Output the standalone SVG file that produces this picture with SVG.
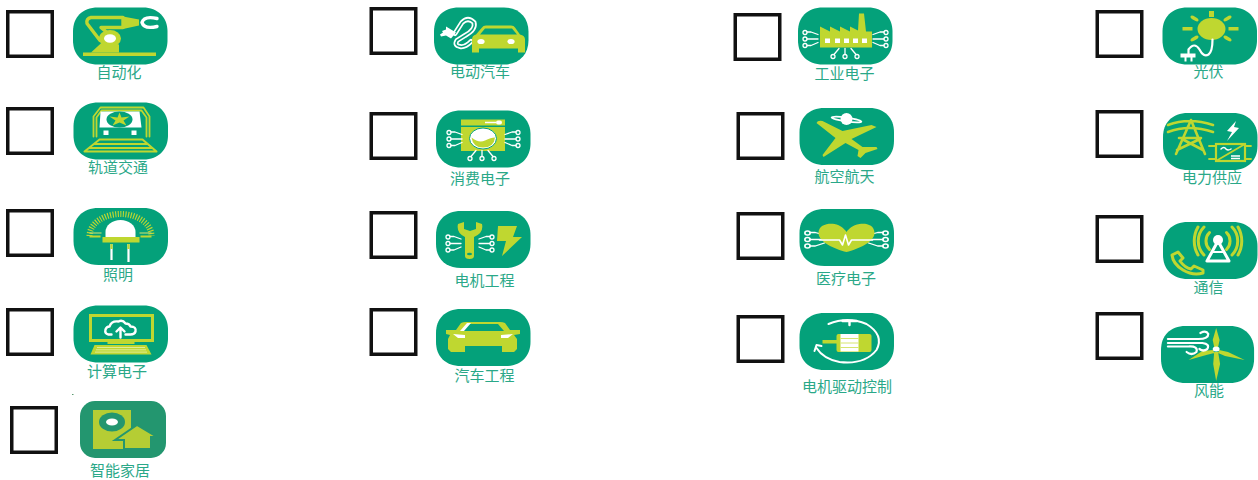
<svg xmlns="http://www.w3.org/2000/svg" width="1258" height="480" viewBox="0 0 1258 480">
<style>
.cb{fill:#fff;stroke:#111;stroke-width:3.500}
.t{fill:#04a17a}
.l{fill:#bfd730}
.w{fill:#fff}
.g{fill:#04a17a}
.ls{fill:none;stroke:#bfd730;stroke-linecap:round;stroke-linejoin:round}
.ws{fill:none;stroke:#fff;stroke-linecap:round;stroke-linejoin:round}
.gs{fill:none;stroke:#04a17a;stroke-linecap:round;stroke-linejoin:round}
text{font-family:"Noto Sans CJK SC","Noto Sans",sans-serif;font-size:15px;fill:#2aa888;text-anchor:middle}
</style>
<defs>
<path id="tile" d="M25 0H70C85 0 94.500 10 94.500 24V33C94.500 47 85 57 70 57H25C9 57 0 47 0 33V24C0 10 9 0 25 0Z"/>
<g id="tl" class="ws" stroke-width="1.300">
<circle cx="0" cy="0" r="2"/><path d="M2 -.5H6L13 2"/>
<circle cx="0" cy="6.500" r="2"/><path d="M2 6.500H13"/>
<circle cx="0" cy="13" r="2"/><path d="M2 13H6L13 10"/>
</g>
<g id="tb" class="ws" stroke-width="1.300">
<circle cx="-12" cy="0" r="2"/><path d="M-11 -2L-6 -8"/>
<circle cx="0" cy="0" r="2"/><path d="M0 -2V-8"/>
<circle cx="12" cy="0" r="2"/><path d="M11 -2L6 -8"/>
</g>
</defs>

<g id="n-automation"><rect class="cb" x="7.750" y="11.750" width="44.500" height="44.500"/>
<g transform="translate(73 7.500)"><use href="#tile" class="t"/>
<rect class="l" x="10" y="45" width="73" height="3.500"/>
<path class="l" d="M18 45L31 33L46 37V45Z"/>
<path class="ls" stroke-width="3.400" d="M27 33L14 16Q13 11 18 10H50V20H28L41 31"/>
<path class="l" d="M50 9L66 12V18L50 21.500Z"/>
<ellipse class="l" cx="37" cy="31" rx="11" ry="8.500"/>
<ellipse class="w" cx="37" cy="31" rx="6" ry="4.200"/>
<path class="ws" stroke-width="3.400" d="M84 11Q71 8 69 15Q71 22 84 19"/>
</g><text x="119" y="78">自动化</text></g>

<g id="n-rail"><rect class="cb" x="7.750" y="108.750" width="44.500" height="44.500"/>
<g transform="translate(73.500 102.500)"><use href="#tile" class="t"/>
<path class="ls" stroke-width="1.800" d="M20 34V14L27 5H70L76 14V34"/>
<path class="ls" stroke-width="1.800" d="M23 34V15L28 8H68L73 15V34"/>
<path class="w" d="M27 9H66L68 25H26Z"/>
<ellipse class="g" cx="46" cy="17" rx="13" ry="8"/>
<path class="l" d="M46 10L48 15L56 14L50 18L53 23L46 20L39 23L42 18L36 14L44 15Z"/>
<rect class="w" x="30" y="28" width="5" height="4.500"/><rect class="w" x="58" y="28" width="5" height="4.500"/>
<path class="ls" stroke-width="2" d="M11 49L26 37H69L83 49ZM21 41.500H74M16 45.500H79"/>
</g><text x="118" y="173">轨道交通</text></g>

<g id="n-lighting"><rect class="cb" x="7.750" y="210.750" width="44.500" height="44.500"/>
<g transform="translate(73.500 208)"><use href="#tile" class="t"/>
<path d="M16 28A31 22 0 0 1 78 28" fill="none" stroke="#bfd730" stroke-width="6" stroke-dasharray="1.100 1.500"/>
<path d="M16 25H28M66 25H78" stroke="#d6e56f" stroke-width="1.200"/>
<path d="M16 28.500H27M67 28.500H78" stroke="#bfd730" stroke-width="1.800"/>
<path class="w" d="M32 29V24A15 12 0 0 1 62 24V29Z"/>
<rect class="l" x="29" y="29" width="37" height="5.500"/>
<path d="M38 36V52M55 36V54" stroke="#fff" stroke-width="2.200"/>
<path d="M38 36V41M55 36V41" stroke="#bfd730" stroke-width="2.200"/>
</g><text x="118" y="280">照明</text></g>

<g id="n-computing"><rect class="cb" x="7.750" y="309.750" width="44.500" height="44.500"/>
<g transform="translate(73.500 305.500)"><use href="#tile" class="t"/>
<rect x="17" y="10" width="62" height="25" fill="none" stroke="#bfd730" stroke-width="3"/>
<path class="ws" stroke-width="2.400" d="M38 29H35Q31 28 32 24Q33 21 36 21Q38 15 45 16Q49 14 52 18Q56 18 57 21Q63 21 62 26Q61 29 57 29H52"/>
<path class="ws" stroke-width="2.400" d="M47 32V23M43 26L47 22L51 26"/>
<rect class="l" x="34" y="36" width="27" height="2.500"/>
<path class="l" d="M21 39.500H73L78 49H17Z"/>
<path d="M24 42H71M23 44.300H72M22 46.600H74" stroke="#fff" stroke-width="1" stroke-dasharray="1 1"/>
</g><text x="117" y="377">计算电子</text></g>

<g id="n-smarthome"><rect class="cb" x="11.750" y="407.750" width="44.500" height="44.500"/>
<rect x="72" y="394" width="1.500" height="1" fill="#5a9a70"/>
<g transform="translate(80 401)"><rect width="86" height="57" rx="15" fill="#23966f"/>
<rect x="13" y="9" width="38" height="39" fill="#b5cd34"/>
<ellipse cx="32" cy="21" rx="13" ry="9.500" fill="#23966f"/><ellipse class="w" cx="32" cy="21" rx="6" ry="3.500"/>
<path d="M35 39L57 24L77 36H71V48H44V39Z" fill="#b5cd34" stroke="#23966f" stroke-width="2"/>
</g><text x="120" y="476">智能家居</text></g>

<g id="n-ev"><rect class="cb" x="371.250" y="8.750" width="44.500" height="44.500"/>
<g transform="translate(434 7.500)"><use href="#tile" class="t"/>
<path d="M21 26L28 15Q34 9 40 15Q42 22 31 28L23 33Q20 38 26 39Q31 40 37 34" fill="none" stroke="#fff" stroke-width="5" stroke-linecap="round"/>
<path d="M21 26L28 15Q34 9 40 15Q42 22 31 28L23 33Q20 38 26 39Q31 40 37 34" class="gs" stroke-width="1.500"/>
<path class="w" d="M12 19L22 25L17 31L12 28L7 29L6 27L9 25L8 23.500L12 22Z"/>
<path class="l" d="M38 45V32Q38 28 42 27L48 20Q49 18 52 18H77Q80 18 81 20L86 27Q91 28 91 32V45H84V41H45V45Z"/>
<path class="g" d="M46 27L51 21H78L83 27Z"/>
<ellipse class="w" cx="47" cy="34" rx="3.600" ry="2.600"/><ellipse class="w" cx="77" cy="34" rx="3.600" ry="2.600"/>
</g><text x="480" y="77">电动汽车</text></g>

<g id="n-consumer"><rect class="cb" x="371.250" y="113.750" width="44.500" height="44.500"/>
<g transform="translate(436 110.500)"><use href="#tile" class="t"/>
<rect class="l" x="25" y="9" width="44" height="6"/>
<path d="M49 12H60" stroke="#fff" stroke-width="1.500"/><rect class="w" x="60" y="10" width="6" height="4" rx="2"/>
<rect class="l" x="25" y="16.500" width="44" height="24"/>
<ellipse class="w" cx="47" cy="28" rx="13.500" ry="10.500" stroke="#04a17a" stroke-width="1"/>
<path class="l" d="M35.500 27Q43 33 49 30Q55 27 59 27Q58 37 47 37Q37 37 35.500 27Z"/>
<use href="#tl" transform="translate(13 22)"/>
<use href="#tl" transform="translate(82 22) scale(-1 1)"/>
<use href="#tb" transform="translate(46 48)"/>
</g><text x="480" y="184">消费电子</text></g>

<g id="n-motoreng"><rect class="cb" x="371.250" y="212.750" width="44.500" height="44.500"/>
<g transform="translate(436 211)"><use href="#tile" class="t"/>
<path class="l" d="M22 13L28 11V18L34 20L40 18V11L46 13Q48 22 38 26V45Q38 48 33.500 48Q29 48 29 45V26Q20 22 22 13Z"/>
<ellipse class="g" cx="33.500" cy="43" rx="2.500" ry="1.300"/>
<use href="#tl" transform="translate(12 26)"/>
<use href="#tl" transform="translate(56 26) scale(-1 1)"/>
<path class="l" d="M62 15H81L77 26H86L66 45L70 30H61Z"/>
</g><text x="484.500" y="286">电机工程</text></g>

<g id="n-autoeng"><rect class="cb" x="371.250" y="309.750" width="44.500" height="44.500"/>
<g transform="translate(436 309)"><use href="#tile" class="t"/>
<path class="l" d="M10 21L20 21L25 14Q27 13 30 13H64Q67 13 69 14L74 21L84 21V25L78 26L81 30V40L78 43H66V37H29V43H15L12 40V30L14 26L10 25Z"/>
<path class="g" d="M27 22L32 15H62L68 22Z"/>
<path class="w" d="M24 22L31 14H35L28 22Z"/>
<path class="w" d="M17 25L29 26V29L22 29Z"/>
<path class="w" d="M77 25L65 26V29L72 29Z"/>
</g><text x="484.500" y="381">汽车工程</text></g>

<g id="n-industrial"><rect class="cb" x="735.250" y="14.750" width="44.500" height="44.500"/>
<g transform="translate(798 7.500)"><use href="#tile" class="t"/>
<path class="l" d="M22 19L32 24V19L42 24V19L52 24V19L60 23L61 6H66L68 24H74V40H22Z"/>
<path class="w" d="M27 31h5v4.500h-5zM37 31h5v4.500h-5zM46 31h5v4.500h-5zM55 31h5v4.500h-5zM64 31h5v4.500h-5z"/>
<use href="#tl" transform="translate(7 25)"/>
<use href="#tl" transform="translate(88 25) scale(-1 1)"/>
<use href="#tb" transform="translate(47 49)"/>
</g><text x="844.500" y="79">工业电子</text></g>

<g id="n-aerospace"><rect class="cb" x="738.250" y="113.750" width="44.500" height="44.500"/>
<g transform="translate(799.500 108)"><use href="#tile" class="t"/>
<path class="l" d="M17 15Q18 12 23 13L43 23L72 17L77 19L52 31L63 39L77 39L78 41L66 45L61 50L58 48L59 42L46 35L24 49L23 47L36 30Z"/>
<circle class="w" cx="47" cy="11" r="6"/>
<ellipse cx="47" cy="11.500" rx="15" ry="2" transform="rotate(8 47 11.500)" fill="none" stroke="#fff" stroke-width="1.800"/>
</g><text x="844.500" y="182">航空航天</text></g>

<g id="n-medical"><rect class="cb" x="738.250" y="213.750" width="44.500" height="44.500"/>
<g transform="translate(799.500 209)"><use href="#tile" class="t"/>
<use href="#tl" transform="translate(8 24) scale(1.300 1)"/>
<use href="#tl" transform="translate(86 24) scale(-1.300 1)"/>
<path class="l" d="M47 43C35 40 19 33 19 24C19 16 28 14 35 15C41 16 45 20 47 23C49 20 53 16 60 15C67 14 75 16 75 24C75 33 59 40 47 43Z"/>
<path class="ws" stroke-width="1.600" d="M20 31H40L43 36L46 26L49 36L52 31H73"/>
</g><text x="846" y="284">医疗电子</text></g>

<g id="n-motordrive"><rect class="cb" x="738.250" y="316.750" width="44.500" height="44.500"/>
<g transform="translate(799.500 313)"><use href="#tile" class="t"/>
<path class="ws" stroke-width="2" d="M29 11Q48 3 67 11Q85 22 77 37Q65 52 40 49Q24 46 17 35"/>
<path class="ws" stroke-width="2" d="M15 38L17 32L22 33"/>
<path class="ws" stroke-width="2.400" d="M43 8H57M50 8V12"/>
<rect class="l" x="23" y="27" width="15" height="3.500"/>
<rect class="l" x="37" y="21" width="35" height="18" rx="2"/>
<rect class="w" x="41" y="21" width="18" height="17.500"/>
<path d="M41 25.500H59M41 30H59M41 34.500H59" stroke="#d6e56f" stroke-width="1"/>
</g><text x="847" y="392">电机驱动控制</text></g>

<g id="n-pv"><rect class="cb" x="1097.250" y="11.750" width="44.500" height="44.500"/>
<g transform="translate(1162.500 7.500)"><use href="#tile" class="t"/>
<ellipse class="l" cx="49" cy="21.500" rx="14" ry="11"/>
<rect class="l" x="46.500" y="3.500" width="5" height="6"/>
<rect class="l" x="20" y="19.500" width="10" height="3.500"/><rect class="l" x="66" y="19.500" width="10" height="3.500"/>
<ellipse class="l" cx="32" cy="11" rx="4.500" ry="1.800" transform="rotate(30 32 11)"/>
<ellipse class="l" cx="65" cy="11" rx="4.500" ry="1.800" transform="rotate(-30 65 11)"/>
<ellipse class="l" cx="32" cy="31" rx="4.500" ry="1.800" transform="rotate(-30 32 31)"/>
<ellipse class="l" cx="65" cy="31" rx="4.500" ry="1.800" transform="rotate(30 65 31)"/>
<path class="ws" stroke-width="2.200" d="M26 46V42Q32 34 37 42Q41 50 46 47Q50 44 50 32"/>
<path class="w" d="M18 46H33V50H30V54H28V50H24V54H22V50H18Z"/>
</g><text x="1208.500" y="77">光伏</text></g>

<g id="n-power"><rect class="cb" x="1097.250" y="111.750" width="44.500" height="44.500"/>
<g transform="translate(1163 113)"><use href="#tile" class="t"/>
<g class="ls" stroke-width="2.600"><path d="M5 12Q26 4 50 12M5 19Q26 11 50 19M28 7L13 41M28 7L42 41M16 25H38M19 26L40 37M37 26L14 37"/></g>
<path class="w" d="M73 8L64 18L69 19L64 28L76 15L71 14Z"/>
<rect x="53" y="31" width="29" height="17" fill="none" stroke="#bfd730" stroke-width="2.200"/>
<path class="ls" stroke-width="1.800" d="M53 48L82 31M46 33H53M82 33H88M46 46H53M82 46H88"/>
<path class="ws" stroke-width="1.500" d="M58 36Q61 33 63 36Q65 38 68 36"/>
<path d="M68 43H77M68 45.500H77" stroke="#fff" stroke-width="1.500"/>
</g><text x="1212" y="183">电力供应</text></g>

<g id="n-telecom"><rect class="cb" x="1097.250" y="216.750" width="44.500" height="44.500"/>
<g transform="translate(1163 222)"><use href="#tile" class="t"/>
<g class="ls" stroke-width="3"><path d="M46.500 10.500A12 12 0 0 0 46.500 27.500M63.500 10.500A12 12 0 0 1 63.500 27.500M41 5A20 20 0 0 0 41 33M69 5A20 20 0 0 1 69 33M35 5A28 28 0 0 0 35 33M75 5A28 28 0 0 1 75 33"/></g>
<path class="ws" stroke-width="3" d="M55 19L44 39H66Z"/>
<path d="M49 30H61" stroke="#fff" stroke-width="2"/>
<circle class="w" cx="55" cy="18" r="5"/>
<path class="ls" stroke-width="3" d="M9 33L15 30L20 36L17 39Q22 46 28 47L31 44L40 48V51Q30 54 20 48Q10 42 9 33Z"/>
</g><text x="1208.500" y="293">通信</text></g>

<g id="n-wind"><rect class="cb" x="1097.250" y="313.750" width="44.500" height="44.500"/>
<g transform="translate(1161 326) scale(.985 1)"><use href="#tile" class="t"/>
<path class="l" d="M56 2L59.500 14L58 21H54L52.500 14ZM54 26H58L60 38L56 55L53 38ZM53 24L42 25L28 34L46 29L54 27ZM59 24L68 26L85 34L65 30L58 27Z"/>
<ellipse class="w" cx="56" cy="23" rx="3.500" ry="2.500"/>
<g class="ws" stroke-width="2.200"><path d="M7 13H38Q48 13 48 8Q46 4 40 7M7 17H42M7 20.500H28Q38 20 36 26Q31 30 26 26M42 17Q50 18 47 23Q43 26 39 23"/></g>
</g><text x="1209" y="396">风能</text></g>
</svg>
